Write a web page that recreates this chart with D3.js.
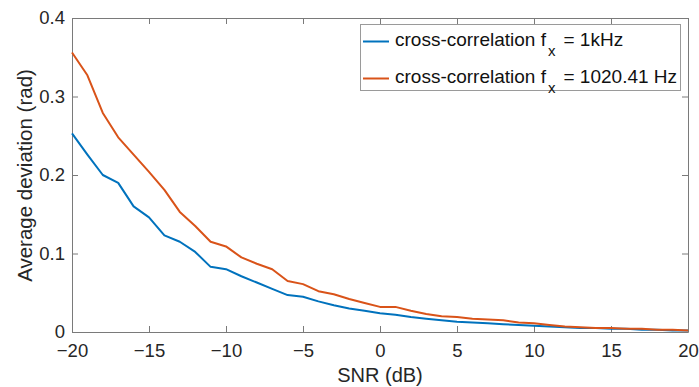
<!DOCTYPE html>
<html>
<head>
<meta charset="utf-8">
<script src="https://cdn.jsdelivr.net/npm/d3@7"></script>
<style>
  html, body { margin: 0; padding: 0; background: #fff; }
  svg { display: block; font-family: "Liberation Sans", Arial, Helvetica, sans-serif; }
</style>
</head>
<body>
<svg id="chart" width="699" height="387"></svg>
<script>
// SNR sweep in dB
const snr = d3.range(-20, 21, 1);

// Average phase deviation (rad) for each estimator
const dev1kHz = [0.253, 0.226, 0.200, 0.190, 0.160, 0.146, 0.123, 0.115, 0.102, 0.083,
                 0.080, 0.071, 0.063, 0.055, 0.047, 0.045, 0.039, 0.034, 0.030, 0.027,
                 0.024, 0.022, 0.019, 0.017, 0.015, 0.013, 0.012, 0.011, 0.010, 0.009,
                 0.008, 0.007, 0.006, 0.005, 0.005, 0.004, 0.004, 0.003, 0.003, 0.002, 0.002];
const dev1020 = [0.356, 0.327, 0.279, 0.248, 0.226, 0.204, 0.181, 0.153, 0.135, 0.115,
                 0.109, 0.095, 0.087, 0.080, 0.065, 0.061, 0.052, 0.048, 0.042, 0.037,
                 0.032, 0.032, 0.027, 0.023, 0.020, 0.019, 0.017, 0.016, 0.015, 0.012,
                 0.011, 0.009, 0.007, 0.006, 0.005, 0.005, 0.004, 0.004, 0.003, 0.003, 0.002];

const xTicks = [-20, -15, -10, -5, 0, 5, 10, 15, 20];
const yTicks = [0, 0.1, 0.2, 0.3, 0.4];

const seriesNames = ["cross-correlation f", "cross-correlation f"];
const seriesSuffix = ["= 1kHz", "= 1020.41 Hz"];
const seriesColors = ["#0072BD", "#D95319"];
const seriesValues = [dev1kHz, dev1020];

const svg = d3.select("#chart");
const L = 72, R = 688, T = 18, B = 332;

const x = d3.scaleLinear().domain([-20, 20]).range([L, R]);
const y = d3.scaleLinear().domain([0, 0.4]).range([B, T]);

const axisColor = "#7a7a7a";
const textColor = "#262626";
const fmtX = d => (d < 0 ? "\u2212" + Math.abs(d) : String(d));
const fmtY = d => (d === 0 ? "0" : d3.format(".1f")(d));

// Bottom and left axes with inward ticks
const gx = svg.append("g").attr("transform", `translate(0,${B})`)
  .call(d3.axisBottom(x).tickValues(xTicks).tickFormat(fmtX).tickSizeInner(-6).tickSizeOuter(0).tickPadding(12));
const gy = svg.append("g").attr("transform", `translate(${L},0)`)
  .call(d3.axisLeft(y).tickValues(yTicks).tickFormat(fmtY).tickSizeInner(-6).tickSizeOuter(0).tickPadding(7));
// Top and right mirror axes (box)
const gxt = svg.append("g").attr("transform", `translate(0,${T})`)
  .call(d3.axisTop(x).tickValues(xTicks).tickFormat("").tickSizeInner(-6).tickSizeOuter(0));
const gyr = svg.append("g").attr("transform", `translate(${R},0)`)
  .call(d3.axisRight(y).tickValues(yTicks).tickFormat("").tickSizeInner(-6).tickSizeOuter(0));

[gx, gy, gxt, gyr].forEach(g => {
  g.select(".domain").attr("stroke", axisColor).attr("stroke-width", 1);
  g.selectAll(".tick line").attr("stroke", axisColor).attr("stroke-width", 1);
  g.selectAll(".tick text").attr("fill", textColor).style("font-size", "18.5px")
    .style("font-family", "'Liberation Sans', Arial, sans-serif");
});

// Data lines
const line = d3.line().x((d, i) => x(snr[i])).y(d => y(d));
seriesValues.forEach((vals, k) => {
  svg.append("path").datum(vals)
    .attr("fill", "none")
    .attr("stroke", seriesColors[k])
    .attr("stroke-width", 2)
    .attr("stroke-linejoin", "round")
    .attr("d", line);
});

// Axis titles
svg.append("text").attr("x", (L + R) / 2).attr("y", 381.5)
  .attr("text-anchor", "middle").attr("fill", textColor).style("font-size", "20px")
  .text("SNR (dB)");
svg.append("text")
  .attr("transform", `translate(31.5,${(T + B) / 2 + 0.5}) rotate(-90)`)
  .attr("text-anchor", "middle").attr("fill", textColor).style("font-size", "20.5px")
  .text("Average deviation (rad)");

// Legend
const lg = svg.append("g");
lg.append("rect").attr("x", 360.5).attr("y", 24.5).attr("width", 320).attr("height", 66)
  .attr("fill", "#fff").attr("stroke", "#9a9a9a").attr("stroke-width", 1);
const rowBase = [46, 83];
seriesValues.forEach((vals, k) => {
  lg.append("line").attr("x1", 363).attr("x2", 389)
    .attr("y1", rowBase[k] - 4.5).attr("y2", rowBase[k] - 4.5)
    .attr("stroke", seriesColors[k]).attr("stroke-width", 2);
  const t = lg.append("text").attr("x", 395).attr("y", rowBase[k])
    .attr("fill", "#111").style("font-size", "19px");
  t.append("tspan").text(seriesNames[k]);
  t.append("tspan").attr("dy", 10).attr("dx", 2).style("font-size", "15px").text("x");
  t.append("tspan").attr("dy", -10).attr("dx", 8).text(seriesSuffix[k]);
});
</script>
</body>
</html>
